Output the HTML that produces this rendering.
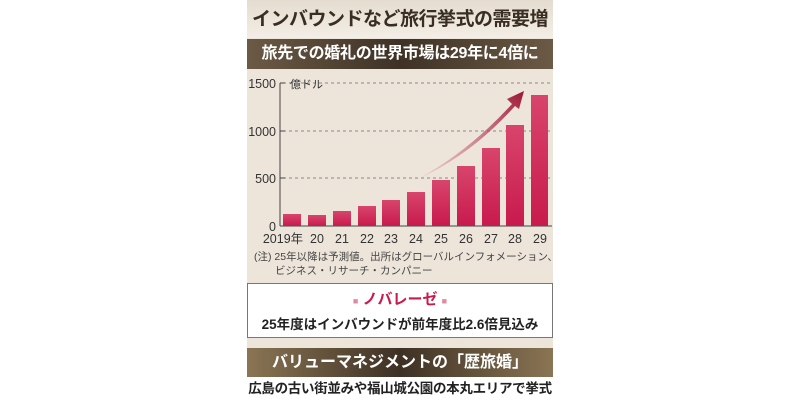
<!DOCTYPE html>
<html><head><meta charset="utf-8"><style>
body{margin:0;width:800px;height:400px;background:#fff;overflow:hidden;position:relative;font-family:"Liberation Sans","Noto Sans CJK JP",sans-serif}
.a{position:absolute;white-space:nowrap}
</style></head><body>
<div class="a" style="left:247px;top:0;width:306px;height:400px;background:#ede5da"></div>
<div class="a" style="left:247px;top:0;width:306px;height:38px;background:linear-gradient(#e4dccf,#f3eee6);text-align:center;font-weight:bold;font-size:19px;letter-spacing:-0.5px;line-height:40px;color:#3a2e22">インバウンドなど旅行挙式の需要増</div>
<div class="a" style="left:247px;top:39px;width:306px;height:30px;background:linear-gradient(90deg,#6b5a45,#3e3226 50%,#6b5a45);text-align:center;font-weight:bold;font-size:16px;letter-spacing:-0.3px;line-height:30px;color:#fff">旅先での婚礼の世界市場は29年に4倍に</div>
<svg class="a" style="left:0;top:0" width="800" height="400">
<defs><linearGradient id="b" x1="0" y1="0" x2="0" y2="1"><stop offset="0" stop-color="#d8456c"/><stop offset="1" stop-color="#c81a4d"/></linearGradient>
<linearGradient id="ar" x1="0" y1="1" x2="1" y2="0"><stop offset="0" stop-color="#d98a9a" stop-opacity="0.3"/><stop offset="1" stop-color="#9c1535"/></linearGradient></defs>
<g stroke="#888" stroke-dasharray="3,3" stroke-width="1">
<line x1="283" y1="83" x2="552" y2="83"/><line x1="283" y1="131" x2="552" y2="131"/><line x1="283" y1="178" x2="552" y2="178"/></g>
<g stroke="#444" stroke-width="1"><line x1="280" y1="83" x2="280" y2="226"/><line x1="280" y1="226" x2="552" y2="226"/>
<line x1="280" y1="83" x2="285" y2="83"/><line x1="280" y1="131" x2="285" y2="131"/><line x1="280" y1="178" x2="285" y2="178"/></g>
<g fill="url(#b)">
<rect x="283" y="214" width="18" height="12"/><rect x="308" y="215" width="18" height="11"/><rect x="333" y="211" width="18" height="15"/><rect x="358" y="206" width="18" height="20"/><rect x="382" y="200" width="18" height="26"/><rect x="407" y="192" width="18" height="34"/><rect x="432" y="180" width="18" height="46"/><rect x="457" y="166" width="18" height="60"/><rect x="482" y="148" width="18" height="78"/><rect x="506" y="125" width="18" height="101"/><rect x="531" y="95" width="17" height="131"/></g>
<path d="M420,178 Q470,150 512,104 L507,99 L524,91 L519,109 L515,106 Q472,154 420,178 Z" fill="url(#ar)"/>
<g font-size="12.5" fill="#333" text-anchor="end"><text x="276" y="88">1500</text><text x="276" y="136">1000</text><text x="276" y="183">500</text><text x="276" y="231">0</text></g>
<text x="290" y="88" font-size="11" fill="#333">億ドル</text>
<g font-size="12.5" fill="#333" text-anchor="middle"><text x="283" y="243">2019年</text><text x="317" y="243">20</text><text x="342" y="243">21</text><text x="367" y="243">22</text><text x="391" y="243">23</text><text x="416" y="243">24</text><text x="441" y="243">25</text><text x="466" y="243">26</text><text x="491" y="243">27</text><text x="515" y="243">28</text><text x="540" y="243">29</text></g>
<text x="254" y="260" font-size="10.5" fill="#444">(注) 25年以降は予測値。出所はグローバルインフォメーション、</text>
<text x="275" y="274" font-size="10.5" fill="#444">ビジネス・リサーチ・カンパニー</text>
</svg>
<div class="a" style="left:247px;top:283px;width:304px;height:53px;background:#fff;border:1px solid #777"></div>
<div class="a" style="left:247px;top:288px;width:306px;text-align:center;font-weight:bold;font-size:15px;color:#c81a4d"><span style="font-size:9px;color:#e08aa0">■</span> ノバレーゼ <span style="font-size:9px;color:#e08aa0">■</span></div>
<div class="a" style="left:247px;top:313px;width:306px;text-align:center;font-weight:bold;font-size:13.5px;color:#222">25年度はインバウンドが前年度比2.6倍見込み</div>
<div class="a" style="left:247px;top:348px;width:306px;height:29px;background:linear-gradient(90deg,#8a7554,#3e3124 50%,#8a7554);text-align:center;font-weight:bold;font-size:16px;line-height:29px;color:#fff">バリューマネジメントの「歴旅婚」</div>
<div class="a" style="left:247px;top:377px;width:306px;height:23px;background:#fff;text-align:center;font-weight:bold;font-size:13.5px;letter-spacing:-0.3px;line-height:23px;color:#222">広島の古い街並みや福山城公園の本丸エリアで挙式</div>
</body></html>
